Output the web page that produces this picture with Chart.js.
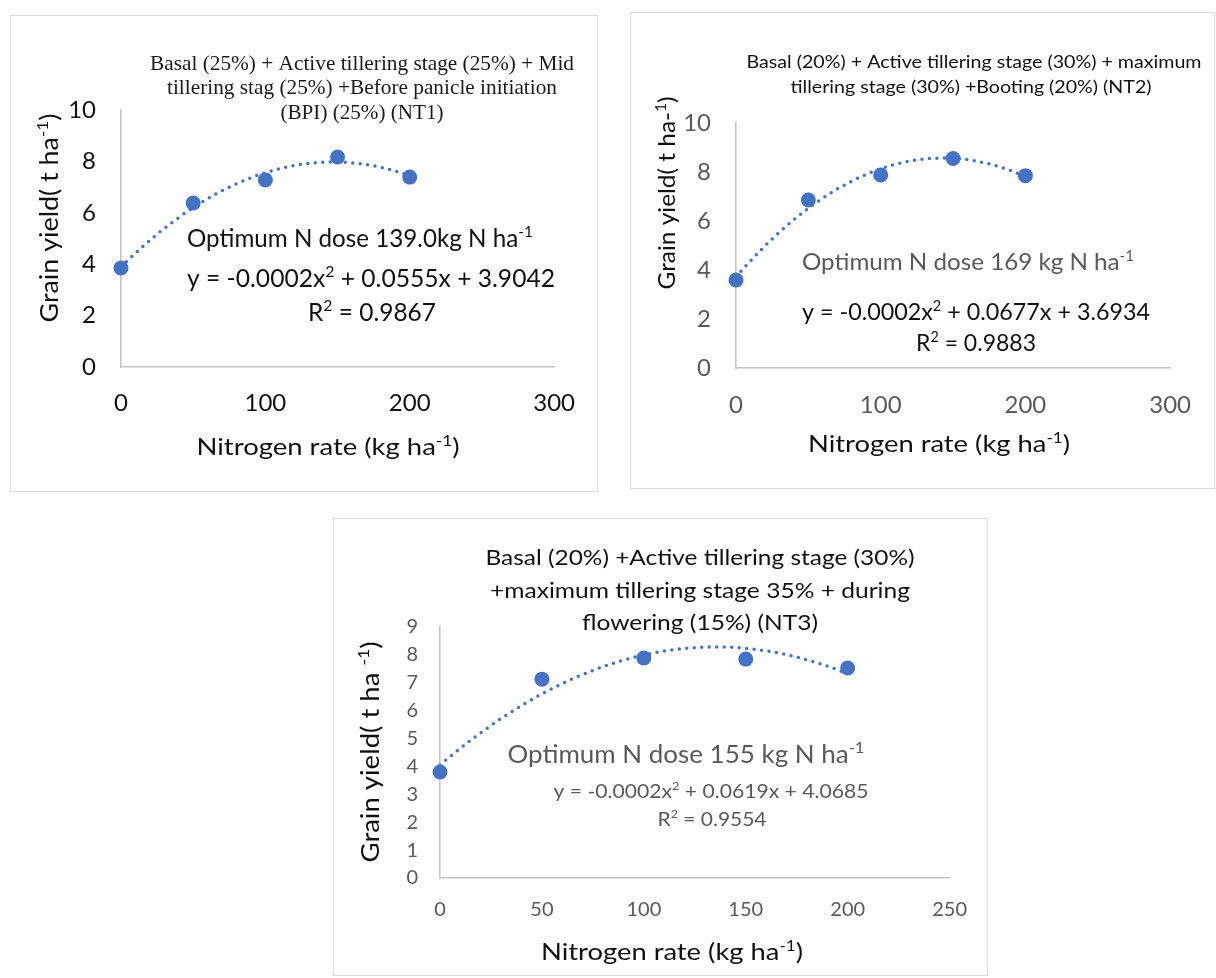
<!DOCTYPE html>
<html>
<head>
<meta charset="utf-8">
<title>Nitrogen rate vs grain yield</title>
<script src="https://cdn.jsdelivr.net/npm/chart.js@4.4.0/dist/chart.umd.min.js"></script>
<style>
    body { margin: 0; background: #fff; width: 1216px; height: 978px; position: relative; overflow: hidden; }
    .box { position: absolute; border: 1px solid #d9d9d9; box-sizing: border-box; background: #fff; }
    .box canvas { display: block; }
</style>
</head>
<body>
<div class="box" style="left:10px;top:15px;width:588px;height:477px;"><canvas id="chartNT1" width="586" height="475"></canvas></div>
<div class="box" style="left:630px;top:12px;width:585px;height:477px;"><canvas id="chartNT2" width="583" height="475"></canvas></div>
<div class="box" style="left:333px;top:518px;width:655px;height:458px;"><canvas id="chartNT3" width="653" height="456"></canvas></div>

<script>
'use strict';

// ---- Data --------------------------------------------------
const nRates = [0, 50, 100, 150, 200];          // kg N ha-1
const yieldNT1 = [3.85, 6.38, 7.28, 8.17, 7.39]; // t ha-1
const yieldNT2 = [3.59, 6.86, 7.88, 8.55, 7.85];
const yieldNT3 = [3.80, 7.13, 7.89, 7.85, 7.53];

const xTicksNT12 = [0, 100, 200, 300];
const yTicksNT12 = [0, 2, 4, 6, 8, 10];
const xTicksNT3 = [0, 50, 100, 150, 200, 250];
const yTicksNT3 = [0, 1, 2, 3, 4, 5, 6, 7, 8, 9];

const BLUE = '#4472c4';
const AXIS = '#c4c4c4';
const GREY = '#595959';
const INK = '#111111';
const SANS = "Lato, 'Open Sans', sans-serif";
const SERIF = "'Liberation Serif', 'Times New Roman', serif";

// ---- Excel-style order-2 polynomial trendline ---------------
function det3(m) {
    return m[0][0] * (m[1][1] * m[2][2] - m[1][2] * m[2][1])
         - m[0][1] * (m[1][0] * m[2][2] - m[1][2] * m[2][0])
         + m[0][2] * (m[1][0] * m[2][1] - m[1][1] * m[2][0]);
}

function quadFit(xs, ys) {
    const s = [0, 0, 0, 0, 0], t = [0, 0, 0];
    xs.forEach((x, i) => {
        for (let k = 0; k < 5; k++) s[k] += Math.pow(x, k);
        for (let k = 0; k < 3; k++) t[k] += ys[i] * Math.pow(x, k);
    });
    const M = [[s[4], s[3], s[2]], [s[3], s[2], s[1]], [s[2], s[1], s[0]]];
    const r = [t[2], t[1], t[0]];
    const D = det3(M);
    const col = (j) => M.map((row, i) => row.map((v, k) => (k === j ? r[i] : v)));
    return [det3(col(0)) / D, det3(col(1)) / D, det3(col(2)) / D];
}

function trendPoints(xs, ys) {
    const [a, b, c] = quadFit(xs, ys);
    const pts = [];
    for (let x = xs[0]; x <= xs[xs.length - 1]; x += 2) {
        pts.push({ x, y: a * x * x + b * x + c });
    }
    return pts;
}

// ---- Rich text (superscripts via ^{...}) -------------------
function segments(str) {
    const out = [];
    const re = /\^\{([^}]*)\}/g;
    let last = 0, m;
    while ((m = re.exec(str))) {
        if (m.index > last) out.push({ t: str.slice(last, m.index), sup: false });
        out.push({ t: m[1], sup: true });
        last = re.lastIndex;
    }
    if (last < str.length) out.push({ t: str.slice(last), sup: false });
    return out;
}

function drawRich(ctx, it, ox, oy) {
    const fam = it.family || SANS;
    const big = `${it.size}px ${fam}`;
    const small = `${Math.round(it.size * 0.62)}px ${fam}`;
    const segs = segments(it.text);
    let total = 0;
    segs.forEach(s => {
        ctx.font = s.sup ? small : big;
        s.w = ctx.measureText(s.t).width;
        total += s.w;
    });
    const sx = it.w ? it.w / total : 1;
    ctx.save();
    ctx.translate(it.x - ox, it.y - oy);
    if (it.rot) ctx.rotate(it.rot);
    ctx.scale(sx, 1);
    ctx.fillStyle = it.color || INK;
    ctx.textBaseline = 'alphabetic';
    ctx.textAlign = 'left';
    let cx = -total / 2;
    const base = it.size * 0.35;
    segs.forEach(s => {
        ctx.font = s.sup ? small : big;
        ctx.fillText(s.t, cx, s.sup ? base - it.size * 0.4 : base);
        cx += s.w;
    });
    ctx.restore();
}

function textLayer(items, origin) {
    return {
        id: 'textLayer',
        afterDraw(chart) {
            items.forEach(it => drawRich(chart.ctx, it, origin[0], origin[1]));
        },
    };
}

// ---- Chart builder -----------------------------------------
function buildChart(id, o) {
    const ctx = document.getElementById(id);
    return new Chart(ctx, {
        type: 'scatter',
        data: {
            datasets: [
                {
                    label: 'Grain yield',
                    data: o.xs.map((x, i) => ({ x, y: o.ys[i] })),
                    backgroundColor: BLUE,
                    borderColor: BLUE,
                    borderWidth: 0,
                    pointRadius: 7.5,
                    pointHoverRadius: 7.5,
                    clip: false,
                    order: 0,
                },
                {
                    label: 'Poly. (Grain yield)',
                    data: trendPoints(o.xs, o.ys),
                    showLine: true,
                    borderColor: BLUE,
                    borderWidth: 3.5,
                    borderDash: [0, 7.5],
                    borderCapStyle: 'round',
                    pointRadius: 0,
                    fill: false,
                    clip: false,
                    order: 1,
                },
            ],
        },
        options: {
            responsive: false,
            animation: false,
            devicePixelRatio: 1,
            layout: { padding: o.pad },
            plugins: {
                legend: { display: false },
                tooltip: { enabled: false },
                title: { display: false },
            },
            scales: {
                x: {
                    type: 'linear',
                    min: o.xTicks[0],
                    max: o.xTicks[o.xTicks.length - 1],
                    afterBuildTicks: s => { s.ticks = o.xTicks.map(v => ({ value: v })); },
                    afterFit: s => { s.height = o.xH; },
                    grid: { display: false, drawTicks: false },
                    border: { display: true, color: AXIS, width: 1.6 },
                    ticks: {
                        font: { family: SANS, size: o.tickSize },
                        color: o.tickColor,
                        padding: o.xPad,
                        maxRotation: 0,
                        autoSkip: false,
                    },
                },
                y: {
                    type: 'linear',
                    min: o.yTicks[0],
                    max: o.yTicks[o.yTicks.length - 1],
                    afterBuildTicks: s => { s.ticks = o.yTicks.map(v => ({ value: v })); },
                    afterFit: s => { s.width = o.yW; },
                    grid: { display: false, drawTicks: false },
                    border: { display: true, color: AXIS, width: 1.6 },
                    ticks: {
                        font: { family: SANS, size: o.tickSize },
                        color: o.tickColor,
                        padding: o.yPad,
                        autoSkip: false,
                    },
                },
            },
        },
        plugins: [textLayer(o.texts, o.origin)],
    });
}

const ROT = -Math.PI / 2;

// ---- NT1 ---------------------------------------------------
buildChart('chartNT1', {
    xs: nRates, ys: yieldNT1, xTicks: xTicksNT12, yTicks: yTicksNT12,
    origin: [11, 16],
    pad: { left: 0, right: 36, top: 94, bottom: 0 },
    yW: 110, xH: 124, yPad: 25, xPad: 22,
    tickSize: 24, tickColor: INK,
    texts: [
        { text: 'Basal (25%) + Active tillering stage (25%) + Mid', x: 362, y: 63, w: 424, size: 21, family: SERIF, color: '#1a1a1a' },
        { text: 'tillering stag (25%) +Before panicle initiation', x: 362, y: 87, w: 390, size: 21, family: SERIF, color: '#1a1a1a' },
        { text: '(BPI) (25%) (NT1)', x: 362, y: 112, w: 163, size: 21, family: SERIF, color: '#1a1a1a' },
        { text: 'Optimum N dose 139.0kg N ha^{-1}', x: 360, y: 238, w: 346, size: 25 },
        { text: 'y = -0.0002x^{2} + 0.0555x + 3.9042', x: 371, y: 278, w: 368, size: 25 },
        { text: 'R^{2} = 0.9867', x: 372, y: 312, w: 128, size: 25 },
        { text: 'Nitrogen rate (kg ha^{-1})', x: 328, y: 447, w: 263, size: 24 },
        { text: 'Grain yield( t ha^{-1})', x: 49, y: 218, w: 209, size: 25, rot: ROT },
    ],
});

// ---- NT2 ---------------------------------------------------
buildChart('chartNT2', {
    xs: nRates, ys: yieldNT2, xTicks: xTicksNT12, yTicks: yTicksNT12,
    origin: [631, 13],
    pad: { left: 0, right: 26, top: 110, bottom: 0 },
    yW: 105, xH: 120, yPad: 25, xPad: 23,
    tickSize: 24, tickColor: GREY,
    texts: [
        { text: 'Basal (20%) + Active tillering stage (30%) + maximum', x: 974, y: 62, w: 455, size: 17 },
        { text: 'tillering stage (30%) +Booting (20%) (NT2)', x: 971, y: 87, w: 361, size: 17 },
        { text: 'Optimum N dose 169 kg N ha^{-1}', x: 968, y: 262, w: 332, size: 24, color: GREY },
        { text: 'y = -0.0002x^{2} + 0.0677x + 3.6934', x: 976, y: 312, w: 348, size: 24 },
        { text: 'R^{2} = 0.9883', x: 976, y: 343, w: 120, size: 24 },
        { text: 'Nitrogen rate (kg ha^{-1})', x: 939, y: 444, w: 262, size: 24 },
        { text: 'Grain yield( t ha-^{1})', x: 667, y: 193, w: 193, size: 24, rot: ROT },
    ],
});

// ---- NT3 ---------------------------------------------------
buildChart('chartNT3', {
    xs: nRates, ys: yieldNT3, xTicks: xTicksNT3, yTicks: yTicksNT3,
    origin: [334, 519],
    pad: { left: 0, right: 30, top: 108, bottom: 0 },
    yW: 106, xH: 97, yPad: 22, xPad: 20,
    tickSize: 20, tickColor: GREY,
    texts: [
        { text: 'Basal (20%) +Active tillering stage (30%)', x: 700, y: 557, w: 429, size: 22 },
        { text: '+maximum tillering stage 35% + during', x: 700, y: 590, w: 420, size: 22 },
        { text: 'flowering (15%) (NT3)', x: 700, y: 622, w: 236, size: 22 },
        { text: 'Optimum N dose 155 kg N ha^{-1}', x: 686, y: 754, w: 357, size: 25, color: GREY },
        { text: 'y = -0.0002x^{2} + 0.0619x + 4.0685', x: 711, y: 791, w: 315, size: 20, color: GREY },
        { text: 'R^{2} = 0.9554', x: 712, y: 819, w: 109, size: 20, color: GREY },
        { text: 'Nitrogen rate (kg ha^{-1})', x: 672, y: 952, w: 262, size: 24 },
        { text: 'Grain yield( t ha ^{-1})', x: 370, y: 752, w: 221, size: 25, rot: ROT },
    ],
});
</script>
</body>
</html>
